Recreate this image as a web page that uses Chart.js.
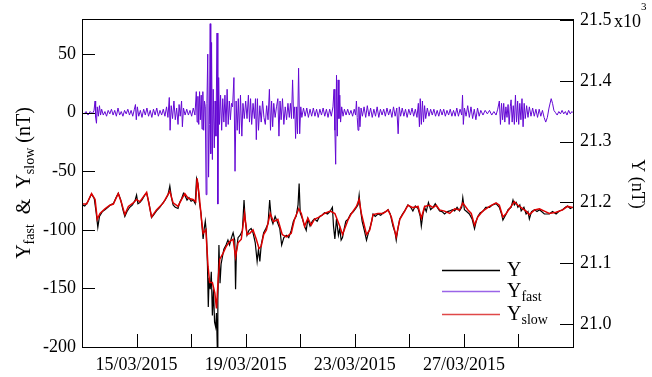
<!DOCTYPE html>
<html>
<head>
<meta charset="utf-8">
<script src="https://cdn.jsdelivr.net/npm/chart.js@4.4.1/dist/chart.umd.min.js"></script>
<style>
  html, body { margin: 0; padding: 0; background: #fff; }
  canvas { display: block; }
</style>
</head>
<body>
<canvas id="chart" width="652" height="377"></canvas>
<script>
// days counted from 13/03/2015 00:00
const xTickDays = [2, 4, 6, 8, 10, 12, 14, 16];
const xTickLabels = ['15/03/2015', '', '19/03/2015', '', '23/03/2015', '', '27/03/2015', ''];
const leftTicks = [-200, -150, -100, -50, 0, 50];
const rightTicks = [21000, 21100, 21200, 21300, 21400, 21500];

// Y (nT), right axis
const yDays = [0.00,0.10,0.20,0.35,0.45,0.52,0.58,0.64,0.75,0.84,0.95,1.05,1.15,1.25,1.33,1.42,1.50,1.57,1.65,1.75,1.85,1.95,2.00,2.05,2.12,2.20,2.30,2.37,2.45,2.55,2.62,2.73,2.85,2.98,3.05,3.15,3.22,3.28,3.34,3.42,3.52,3.58,3.65,3.72,3.77,3.85,3.92,4.00,4.08,4.15,4.20,4.25,4.30,4.36,4.40,4.44,4.48,4.52,4.56,4.60,4.63,4.66,4.70,4.74,4.78,4.82,4.86,4.90,4.93,4.96,4.98,5.02,5.06,5.10,5.15,5.20,5.28,5.35,5.41,5.48,5.54,5.60,5.63,5.66,5.72,5.80,5.88,5.94,5.98,6.05,6.12,6.20,6.27,6.35,6.42,6.47,6.52,6.57,6.66,6.74,6.82,6.88,6.94,7.00,7.08,7.15,7.25,7.32,7.40,7.49,7.58,7.67,7.75,7.85,7.92,7.96,8.00,8.08,8.16,8.22,8.28,8.36,8.44,8.52,8.62,8.71,8.80,8.89,9.00,9.09,9.18,9.22,9.27,9.33,9.40,9.45,9.50,9.55,9.60,9.67,9.76,9.85,9.95,10.06,10.12,10.16,10.20,10.27,10.35,10.43,10.50,10.55,10.62,10.67,10.75,10.85,10.95,11.04,11.15,11.22,11.30,11.40,11.48,11.52,11.58,11.65,11.75,11.83,11.90,11.95,12.05,12.13,12.22,12.32,12.40,12.44,12.50,12.56,12.62,12.70,12.78,12.87,12.95,13.02,13.11,13.20,13.29,13.40,13.48,13.58,13.66,13.75,13.84,13.92,13.96,14.02,14.10,14.20,14.30,14.39,14.45,14.51,14.60,14.69,14.80,14.94,15.05,15.18,15.30,15.38,15.43,15.50,15.55,15.62,15.73,15.80,15.85,15.92,15.98,16.05,16.10,16.20,16.28,16.35,16.40,16.48,16.59,16.68,16.77,16.85,16.95,17.05,17.13,17.25,17.38,17.50,17.62,17.72,17.80,17.90,17.99];
const yValues = [21196,21194,21200,21214,21206,21183,21159,21177,21185,21188,21192,21196,21198,21208,21215,21204,21188,21177,21185,21192,21196,21204,21212,21198,21200,21204,21212,21215,21200,21175,21179,21186,21192,21200,21204,21212,21227,21208,21196,21192,21190,21200,21206,21215,21212,21204,21208,21202,21204,21198,21239,21231,21202,21183,21161,21140,21157,21169,21150,21096,21028,21076,21057,21086,21014,21057,21003,20995,21018,20960,21038,21130,21067,21099,21111,21123,21130,21138,21130,21142,21150,21138,21057,21119,21142,21146,21154,21204,21173,21146,21154,21157,21150,21134,21103,21123,21103,21130,21150,21157,21165,21204,21173,21165,21177,21169,21157,21130,21142,21146,21142,21154,21169,21177,21196,21231,21183,21173,21161,21154,21173,21161,21169,21173,21169,21177,21179,21183,21181,21185,21192,21161,21140,21173,21146,21157,21138,21142,21154,21169,21173,21181,21185,21192,21196,21212,21192,21169,21154,21138,21150,21157,21169,21181,21177,21181,21179,21183,21185,21188,21181,21161,21150,21138,21157,21173,21181,21186,21192,21196,21192,21186,21194,21190,21177,21161,21181,21192,21185,21200,21188,21192,21198,21192,21186,21185,21181,21185,21186,21188,21186,21192,21186,21192,21208,21188,21185,21181,21173,21157,21169,21177,21183,21185,21192,21192,21196,21198,21192,21181,21171,21177,21181,21188,21192,21204,21196,21200,21192,21196,21186,21192,21181,21185,21173,21185,21188,21185,21188,21185,21181,21181,21181,21185,21181,21186,21188,21192,21194,21190,21192];

// Y fast (nT), left axis
const fastDays = [0,0.08,0.15,0.22,0.3,0.38,0.44,0.48,0.5,0.53,0.56,0.6,0.64,0.68,0.72,0.78,0.84,0.9,0.96,1.02,1.08,1.14,1.2,1.26,1.32,1.38,1.44,1.5,1.56,1.62,1.68,1.74,1.8,1.86,1.92,1.96,1.99,2.03,2.08,2.14,2.2,2.26,2.32,2.38,2.44,2.5,2.56,2.62,2.68,2.74,2.8,2.86,2.92,2.98,3.04,3.1,3.15,3.2,3.23,3.27,3.32,3.37,3.42,3.47,3.52,3.56,3.6,3.65,3.68,3.72,3.78,3.84,3.9,3.96,4.02,4.08,4.14,4.19,4.22,4.25,4.28,4.31,4.34,4.37,4.4,4.43,4.46,4.49,4.52,4.55,4.58,4.61,4.64,4.67,4.7,4.72,4.75,4.78,4.81,4.85,4.88,4.91,4.95,4.98,5.01,5.04,5.08,5.12,5.16,5.2,5.24,5.28,5.32,5.36,5.4,5.44,5.48,5.52,5.57,5.61,5.65,5.69,5.73,5.77,5.81,5.86,5.9,5.95,6.0,6.05,6.1,6.14,6.18,6.22,6.27,6.32,6.36,6.39,6.43,6.47,6.52,6.57,6.62,6.67,6.72,6.77,6.82,6.87,6.91,6.95,6.99,7.03,7.08,7.13,7.18,7.22,7.26,7.3,7.35,7.4,7.45,7.5,7.55,7.6,7.64,7.68,7.72,7.76,7.8,7.83,7.87,7.9,7.94,7.98,8.02,8.06,8.12,8.18,8.24,8.3,8.36,8.42,8.48,8.54,8.6,8.66,8.72,8.78,8.84,8.9,8.96,9.02,9.08,9.14,9.2,9.24,9.27,9.3,9.33,9.36,9.39,9.42,9.45,9.48,9.52,9.57,9.62,9.68,9.74,9.8,9.86,9.92,9.98,10.03,10.06,10.09,10.12,10.15,10.19,10.23,10.28,10.34,10.4,10.46,10.52,10.58,10.64,10.7,10.76,10.82,10.88,10.94,11.0,11.06,11.12,11.18,11.24,11.3,11.36,11.42,11.48,11.54,11.59,11.63,11.68,11.74,11.8,11.86,11.92,11.98,12.04,12.1,12.16,12.22,12.28,12.33,12.37,12.4,12.44,12.48,12.52,12.56,12.6,12.66,12.72,12.78,12.84,12.9,12.96,13.02,13.08,13.14,13.2,13.26,13.32,13.38,13.44,13.5,13.56,13.62,13.68,13.74,13.8,13.86,13.92,13.95,13.98,14.02,14.08,14.14,14.2,14.26,14.32,14.38,14.44,14.5,14.56,14.62,14.7,14.78,14.86,14.94,15.02,15.1,15.18,15.24,15.3,15.34,15.38,15.42,15.46,15.5,15.54,15.58,15.62,15.66,15.7,15.73,15.77,15.81,15.85,15.89,15.93,15.97,16.01,16.05,16.09,16.13,16.17,16.21,16.25,16.3,16.35,16.4,16.46,16.52,16.58,16.64,16.7,16.76,16.82,16.88,16.94,17.0,17.06,17.12,17.2,17.25,17.3,17.36,17.42,17.48,17.54,17.6,17.66,17.72,17.78,17.84,17.9,17.96,18.0];
const fastValues = [0,-1,1,-2,1,-1,2,10,-4,-9,5,-3,6,-2,3,-2,1,-3,2,-1,3,-2,2,-3,4,-2,1,-3,2,-1,3,-2,2,-3,3,7,-6,5,-3,2,-4,3,-2,4,-3,2,-4,3,-2,4,-3,2,-2,3,-3,5,-4,13,-15,6,-5,10,-6,4,-10,7,-3,10,-12,4,-2,3,-2,2,-3,4,-2,18,-8,14,-10,18,-6,15,-14,18,-15,10,5,-70,8,50,-55,-10,76,-35,60,-40,20,-30,10,-20,68,-78,30,-10,15,-15,12,-8,15,-12,20,-10,10,-6,8,5,30,-50,10,-15,12,-18,15,-20,8,-5,10,-5,15,-8,12,-10,8,-5,12,-23,12,-15,6,-8,10,-4,-10,6,-6,20,-15,10,-12,8,-4,5,12,-20,10,-6,12,-10,5,-6,8,-4,8,-5,28,-5,5,-22,5,-18,38,-18,5,-4,4,-3,4,-4,3,-3,4,-3,3,-4,3,-2,4,-3,3,-4,3,-3,5,20,-15,-44,32,-20,28,-5,15,-8,5,-3,3,-2,3,-2,2,-3,3,-2,10,-4,-15,5,-12,4,-3,5,-4,6,-3,4,-4,3,-3,5,-4,3,-2,3,-3,4,-2,3,-4,5,-3,4,-18,5,-3,4,-3,3,-4,3,-2,4,-3,3,-4,8,-12,12,-10,10,-8,6,-5,4,-3,3,-2,3,-3,2,-3,3,-2,3,-3,2,-2,3,-3,2,-3,4,-3,3,-2,15,-10,4,-3,6,-4,5,-5,3,-6,4,-3,2,-2,2,-1,2,-2,1,-2,3,10,-10,8,-6,8,-8,5,-4,7,-10,5,11,-8,6,-10,15,-8,10,-10,8,-6,12,-12,8,-5,6,-4,5,-3,4,-3,3,-4,3,-3,2,-4,-8,-4,4,12,8,2,0,-2,1,-1,2,-1,1,-2,2,-1,1,0];

// Y slow (nT), left axis
const slowDays = [0,0.17,0.35,0.48,0.56,0.66,0.84,1.02,1.15,1.33,1.45,1.57,1.70,1.88,2.0,2.12,2.37,2.55,2.73,2.98,3.22,3.34,3.52,3.65,3.77,3.89,4.07,4.17,4.22,4.29,4.38,4.44,4.54,4.62,4.68,4.78,4.87,4.93,4.99,5.05,5.17,5.29,5.41,5.54,5.63,5.72,5.84,5.96,6.05,6.15,6.27,6.39,6.49,6.57,6.66,6.76,6.90,7.02,7.18,7.34,7.49,7.67,7.79,7.95,8.04,8.16,8.28,8.40,8.52,8.71,8.89,9.10,9.27,9.45,9.55,9.63,9.76,9.88,10.06,10.16,10.24,10.43,10.55,10.67,10.85,11.04,11.22,11.34,11.52,11.65,11.83,11.95,12.13,12.32,12.44,12.56,12.74,12.87,12.99,13.11,13.29,13.48,13.66,13.84,13.96,14.15,14.27,14.39,14.51,14.69,14.94,15.18,15.30,15.43,15.55,15.73,15.85,15.98,16.10,16.28,16.40,16.59,16.77,16.95,17.13,17.38,17.62,17.80,17.99];
const slowValues = [-78,-78,-69,-74,-91,-86,-82,-79,-78,-69,-77,-87,-80,-77,-74,-76,-68,-89,-83,-77,-67,-77,-80,-74,-69,-73,-74,-76,-56,-69,-91,-103,-100,-131,-145,-145,-154,-167,-143,-125,-120,-114,-110,-108,-123,-111,-108,-86,-104,-103,-100,-108,-116,-114,-104,-100,-86,-93,-91,-104,-106,-103,-91,-82,-86,-97,-90,-96,-91,-89,-86,-84,-86,-97,-104,-99,-91,-86,-80,-74,-86,-104,-100,-87,-86,-86,-83,-89,-106,-91,-84,-79,-81,-80,-90,-80,-79,-81,-79,-83,-84,-86,-82,-83,-77,-83,-86,-96,-89,-84,-80,-77,-79,-89,-86,-80,-76,-79,-81,-84,-87,-83,-82,-84,-86,-85,-83,-80,-81];

const serif = "'Liberation Serif', 'DejaVu Serif', serif";
const toPoints = (days, vals) => days.map((d, i) => ({ x: d, y: vals[i] }));

// frame, inward ticks, axis titles, legend
const decorations = {
  id: 'decorations',
  afterDraw(chart) {
    const { ctx, chartArea: a, scales } = chart;
    ctx.save();
    ctx.strokeStyle = '#000';
    ctx.lineWidth = 1;
    ctx.strokeRect(Math.round(a.left) + 0.5, Math.round(a.top) + 0.5, Math.round(a.right - a.left), Math.round(a.bottom - a.top));

    ctx.beginPath();
    scales.x.ticks.forEach(t => {
      const px = Math.round(scales.x.getPixelForValue(t.value)) + 0.5;
      ctx.moveTo(px, a.bottom); ctx.lineTo(px, a.bottom - 13);
    });
    scales.y.ticks.forEach(t => {
      const py = Math.round(scales.y.getPixelForValue(t.value)) + 0.5;
      ctx.moveTo(a.left, py); ctx.lineTo(a.left + 13, py);
    });
    scales.y2.ticks.forEach(t => {
      const py = Math.round(scales.y2.getPixelForValue(t.value)) + 0.5;
      ctx.moveTo(a.right, py); ctx.lineTo(a.right - 13, py);
    });
    ctx.stroke();

    ctx.fillStyle = '#000';
    ctx.textBaseline = 'alphabetic';

    // x10^3 next to the top right tick
    const topY = scales.y2.getPixelForValue(21500);
    ctx.font = '18px ' + serif;
    ctx.textAlign = 'left';
    ctx.fillText('x10', 614, topY + 7);
    ctx.font = '11px ' + serif;
    ctx.fillText('3', 641, topY - 10);

    // piecewise text with subscripts
    const drawRich = (parts, x, y) => {
      let cx = x;
      parts.forEach(p => {
        ctx.font = (p.sub ? p.size * 0.7 : p.size) + 'px ' + serif;
        ctx.fillText(p.t, cx, y + (p.sub ? p.size * 0.22 : 0));
        cx += ctx.measureText(p.t).width;
      });
      return cx - x;
    };
    const richWidth = parts => {
      let w = 0;
      parts.forEach(p => {
        ctx.font = (p.sub ? p.size * 0.7 : p.size) + 'px ' + serif;
        w += ctx.measureText(p.t).width;
      });
      return w;
    };

    // left title
    const leftTitle = [
      { t: 'Y', size: 20 }, { t: 'fast', size: 20, sub: true },
      { t: '  &  ', size: 20 }, { t: 'Y', size: 20 }, { t: 'slow', size: 20, sub: true },
      { t: ' (nT)', size: 20 }
    ];
    ctx.save();
    ctx.translate(30, 183);
    ctx.rotate(-Math.PI / 2);
    drawRich(leftTitle, -richWidth(leftTitle) / 2, 0);
    ctx.restore();

    // right title
    const rightTitle = [{ t: 'Y (nT)', size: 18 }];
    ctx.save();
    ctx.translate(632, 184);
    ctx.rotate(Math.PI / 2);
    drawRich(rightTitle, -richWidth(rightTitle) / 2, 0);
    ctx.restore();

    // legend
    const legend = [
      { color: '#000000', parts: [{ t: 'Y', size: 20 }] },
      { color: '#9a64e8', parts: [{ t: 'Y', size: 20 }, { t: 'fast', size: 20, sub: true }] },
      { color: '#e04848', parts: [{ t: 'Y', size: 20 }, { t: 'slow', size: 20, sub: true }] }
    ];
    const legendY = [270.5, 291.5, 314.5];
    legend.forEach((item, i) => {
      const ly = legendY[i];
      ctx.strokeStyle = item.color;
      ctx.lineWidth = 1.5;
      ctx.beginPath();
      ctx.moveTo(442, ly);
      ctx.lineTo(500, ly);
      ctx.stroke();
      ctx.fillStyle = '#000';
      drawRich(item.parts, 507, ly + 5.5);
    });
    ctx.restore();
  }
};

new Chart(document.getElementById('chart'), {
  type: 'line',
  data: {
    datasets: [
      { label: 'Y', data: toPoints(yDays, yValues), yAxisID: 'y2', borderColor: '#000000', borderWidth: 1.2, order: 2 },
      { label: 'Yfast', data: toPoints(fastDays, fastValues), yAxisID: 'y', borderColor: '#6408d4', borderWidth: 1, order: 1 },
      { label: 'Yslow', data: toPoints(slowDays, slowValues), yAxisID: 'y', borderColor: '#dd0000', borderWidth: 1.5, order: 0 }
    ]
  },
  options: {
    responsive: false,
    animation: false,
    layout: { padding: { top: 19, left: 0, right: 0, bottom: 0 } },
    elements: { point: { radius: 0 }, line: { tension: 0 } },
    plugins: { legend: { display: false }, tooltip: { enabled: false } },
    scales: {
      x: {
        type: 'linear', min: 0, max: 18,
        grid: { display: false, drawTicks: false }, border: { display: false },
        afterBuildTicks: s => { s.ticks = xTickDays.map(v => ({ value: v })); },
        afterFit: s => { s.height = 30; },
        ticks: {
          autoSkip: false, maxRotation: 0, padding: 7, color: '#000',
          font: { family: serif, size: 18 },
          callback: v => xTickLabels[xTickDays.indexOf(v)] || ''
        }
      },
      y: {
        position: 'left', min: -200, max: 80,
        grid: { display: false, drawTicks: false }, border: { display: false },
        afterBuildTicks: s => { s.ticks = leftTicks.map(v => ({ value: v })); },
        afterFit: s => { s.width = 82; },
        ticks: { padding: 6, color: '#000', font: { family: serif, size: 18 } }
      },
      y2: {
        position: 'right', min: 20962, max: 21502,
        grid: { display: false, drawTicks: false }, border: { display: false },
        afterBuildTicks: s => { s.ticks = rightTicks.map(v => ({ value: v })); },
        afterFit: s => { s.width = 79; },
        ticks: { padding: 7, color: '#000', font: { family: serif, size: 18 },
          callback: v => (v / 1000).toFixed(1) }
      }
    }
  },
  plugins: [decorations]
});
</script>
</body>
</html>
